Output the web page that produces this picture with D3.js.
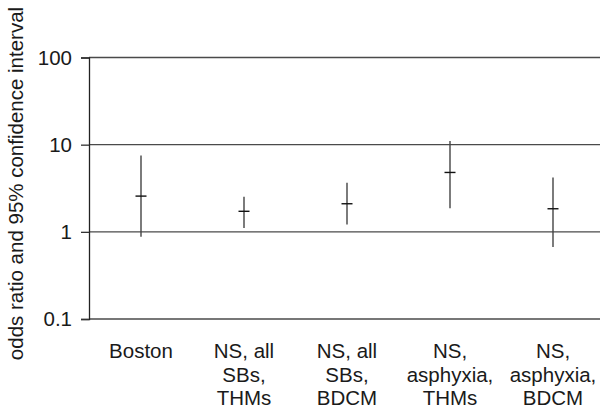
<!DOCTYPE html>
<html><head><meta charset="utf-8">
<script src="https://cdn.jsdelivr.net/npm/d3@7"></script>
<style>html,body{margin:0;padding:0;background:#fff;}svg{display:block;}</style>
</head><body>
<svg id="chart" width="600" height="409"></svg>
<script>
const categories = [
  ["Boston"],
  ["NS, all", "SBs,", "THMs"],
  ["NS, all", "SBs,", "BDCM"],
  ["NS,", "asphyxia,", "THMs"],
  ["NS,", "asphyxia,", "BDCM"]
];
const estimates = [2.57, 1.72, 2.1, 4.8, 1.84];
const lower = [0.88, 1.11, 1.21, 1.87, 0.67];
const upper = [7.5, 2.53, 3.66, 11.0, 4.2];
const yTicks = [0.1, 1, 10, 100];
const yTickLabels = ["0.1", "1", "10", "100"];
const yTitle = "odds ratio and 95% confidence interval";

const svg = d3.select("#chart");
const font = "'Liberation Sans', Arial, Helvetica, sans-serif";
const fs = 20.5;

const x = d3.scaleBand().domain(d3.range(categories.length)).range([89.5, 604.5]).padding(0);
const y = d3.scaleLog().domain([0.1, 100]).range([319, 57.5]);
const xEnd = 600;

// gridlines
svg.append("g").selectAll("line").data(yTicks).join("line")
  .attr("x1", 89).attr("x2", xEnd)
  .attr("y1", d => y(d)).attr("y2", d => y(d))
  .attr("stroke", "#4a4a4a").attr("stroke-width", 1.3);

// y axis
const yAxis = d3.axisLeft(y).tickValues(yTicks).tickSize(8).tickPadding(9)
  .tickFormat((d, i) => yTickLabels[i]);
const gy = svg.append("g").attr("transform", "translate(89,0)").call(yAxis);
gy.select(".domain").attr("stroke", "#222").attr("stroke-width", 1.3);
gy.selectAll(".tick line").attr("stroke", "#333").attr("stroke-width", 1.3);
gy.selectAll(".tick text").attr("font-family", font).attr("font-size", fs)
  .attr("fill", "#1a1a1a").attr("dy", "0.34em");

// whiskers
const marks = svg.append("g");
marks.selectAll("line.ci").data(categories).join("line").attr("class", "ci")
  .attr("x1", (d, i) => x(i) + x.bandwidth() / 2)
  .attr("x2", (d, i) => x(i) + x.bandwidth() / 2)
  .attr("y1", (d, i) => y(upper[i])).attr("y2", (d, i) => y(lower[i]))
  .attr("stroke", "#444").attr("stroke-width", 1.4);
marks.selectAll("line.est").data(categories).join("line").attr("class", "est")
  .attr("x1", (d, i) => x(i) + x.bandwidth() / 2 - 5.5)
  .attr("x2", (d, i) => x(i) + x.bandwidth() / 2 + 5.5)
  .attr("y1", (d, i) => y(estimates[i])).attr("y2", (d, i) => y(estimates[i]))
  .attr("stroke", "#111").attr("stroke-width", 1.4);

// x labels
const xl = svg.append("g");
categories.forEach((lines, i) => {
  const t = xl.append("text")
    .attr("x", x(i) + x.bandwidth() / 2).attr("y", 358)
    .attr("text-anchor", "middle").attr("font-family", font).attr("font-size", fs)
    .attr("fill", "#1a1a1a");
  lines.forEach((ln, j) => {
    t.append("tspan").attr("x", x(i) + x.bandwidth() / 2).attr("y", 358 + j * 23.7).text(ln);
  });
});

// y title
svg.append("text")
  .attr("transform", "translate(23,183.5) rotate(-90)")
  .attr("text-anchor", "middle").attr("font-family", font).attr("font-size", 20.5)
  .attr("fill", "#1a1a1a").text(yTitle);
</script>
</body></html>
